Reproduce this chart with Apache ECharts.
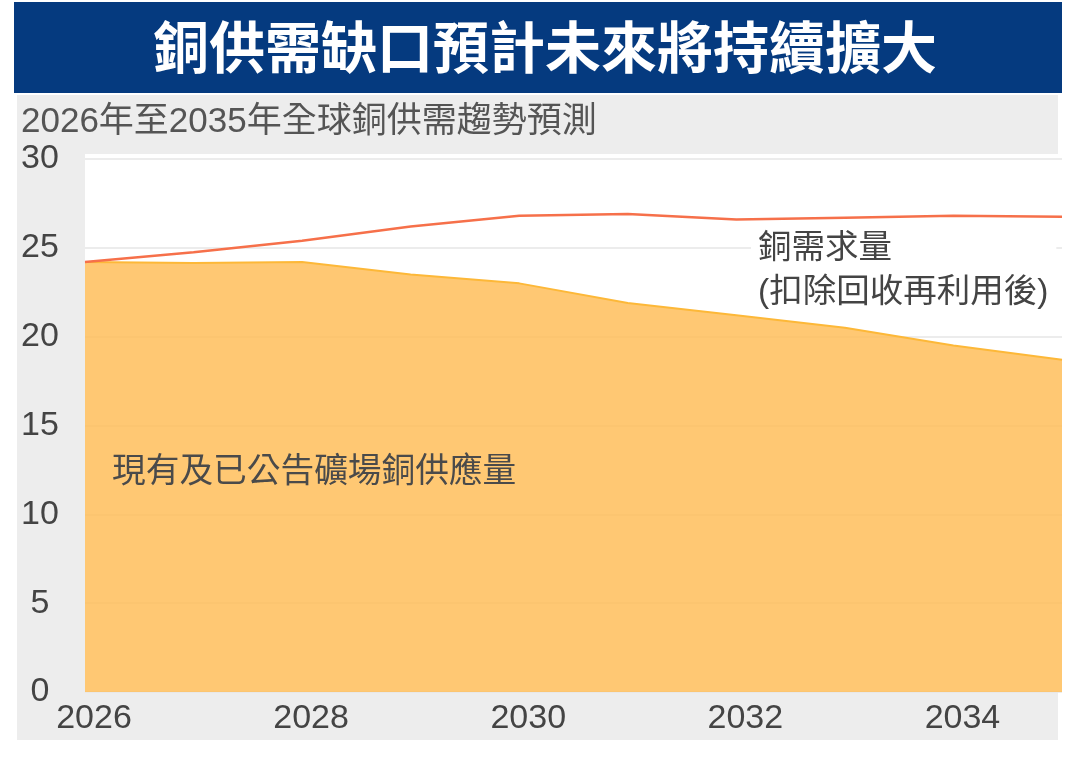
<!DOCTYPE html>
<html>
<head>
<meta charset="utf-8">
<script src="https://cdn.jsdelivr.net/npm/echarts@6/dist/echarts.min.js"></script>
<style>
  html, body { margin: 0; padding: 0; background: #fff; }
  #chart { width: 1090px; height: 758px; }
</style>
</head>
<body>
<div id="chart"></div>
<script>
// 年份
var years = ['2026', '2027', '2028', '2029', '2030', '2031', '2032', '2033', '2034', '2035'];
// 銅需求量(扣除回收再利用後)
var demand = [24.2, 24.75, 25.4, 26.2, 26.8, 26.9, 26.6, 26.7, 26.8, 26.75];
// 現有及已公告礦場銅供應量
var supply = [24.2, 24.15, 24.2, 23.5, 23.0, 21.9, 21.2, 20.5, 19.5, 18.7];

var FONT = "'Liberation Sans', Arial, 'Noto Sans CJK TC', sans-serif";
var CJK = "'Liberation Sans', 'Noto Sans CJK TC', sans-serif";

var myChart = echarts.init(document.getElementById('chart'));

var option = {
    backgroundColor: '#fff',
    animation: false,
    title: {
        text: '銅供需缺口預計未來將持續擴大',
        left: 'center',
        top: 20,
        textStyle: { color: '#fff', fontSize: 56, fontWeight: 'bold', fontFamily: CJK }
    },
    graphic: [
        // 標題底色
        { type: 'rect', z: -10, shape: { x: 14, y: 2, width: 1048, height: 91 }, style: { fill: '#053a7f' } },
        // 灰色底
        { type: 'rect', z: -10, shape: { x: 17, y: 95, width: 1041, height: 645 }, style: { fill: '#ededed' } },
        // 繪圖區白底
        { type: 'rect', z: -9, shape: { x: 85, y: 154, width: 977, height: 538 }, style: { fill: '#fff' } },
        {
            type: 'text', left: 21, top: 105, z: 10,
            style: { text: '2026年至2035年全球銅供需趨勢預測', fill: '#555', fontSize: 35, fontFamily: CJK }
        },
        {
            type: 'text', left: 751, top: 227, z: 10,
            style: {
                text: '銅需求量\n(扣除回收再利用後)', fill: '#444', fontSize: 33.5, lineHeight: 44,
                fontFamily: CJK, backgroundColor: '#fff', padding: [0, 8, 0, 7]
            }
        },
        {
            type: 'text', left: 112, top: 456, z: 10,
            style: { text: '現有及已公告礦場銅供應量', fill: '#4a4a4a', fontSize: 33.7, fontFamily: CJK }
        }
    ],
    grid: { left: 85, right: 28, top: 159, bottom: 66 },
    xAxis: {
        type: 'category',
        data: years,
        boundaryGap: false,
        axisLine: { show: false },
        axisTick: { show: false },
        axisLabel: {
            interval: 1, fontSize: 34, color: '#444', fontFamily: FONT, margin: 10,
            padding: [0, 0, 0, 18]
        }
    },
    yAxis: {
        type: 'value',
        min: 0,
        max: 30,
        interval: 5,
        axisLine: { show: false },
        axisTick: { show: false },
        axisLabel: {
            fontSize: 34, color: '#444', fontFamily: FONT, align: 'center', margin: 45,
            padding: [6, 0, 0, 0]
        },
        splitLine: { lineStyle: { color: '#e6e6e6', width: 1.5 } }
    },
    series: [
        {
            name: '現有及已公告礦場銅供應量',
            type: 'line',
            data: supply,
            symbol: 'none',
            lineStyle: { color: '#fdb838', width: 2 },
            areaStyle: { color: 'rgb(255,190,90)', opacity: 0.85 },
            z: 2
        },
        {
            name: '銅需求量',
            type: 'line',
            data: demand,
            symbol: 'none',
            lineStyle: { color: '#f6704a', width: 2.5 },
            z: 3
        }
    ]
};

myChart.setOption(option);
</script>
</body>
</html>
